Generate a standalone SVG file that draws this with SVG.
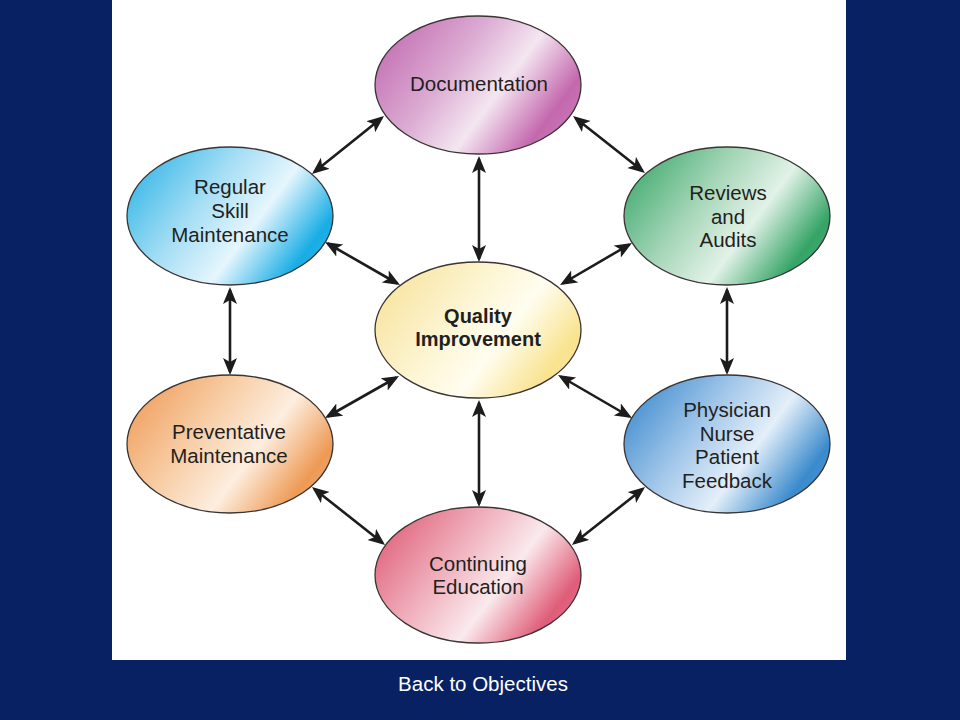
<svg xmlns="http://www.w3.org/2000/svg" width="960" height="720" viewBox="0 0 960 720">
<style>
.node ellipse{stroke:#3a3434;stroke-width:1.3}
.lbl{font-family:"Liberation Sans",Arial,sans-serif;font-size:20.5px;fill:#231f20;text-anchor:middle}
.bold{font-weight:bold;font-size:20px}
.conn line{stroke:#1c1c1c;stroke-width:2.6;marker-start:url(#ah);marker-end:url(#ah)}
.foot{font-family:"Liberation Sans",Arial,sans-serif;font-size:20.5px;fill:#ffffff;text-anchor:middle}
</style>
<defs>
<marker id="ah" markerUnits="userSpaceOnUse" markerWidth="18" markerHeight="16" refX="14" refY="7" orient="auto-start-reverse">
<path d="M0,0 L17,7 L0,14 L4,7 z" fill="#1c1c1c"/>
</marker>
<linearGradient id="gDoc" x1="0" y1="0.25" x2="1" y2="0.75">
<stop offset="0" stop-color="#c470b3"/><stop offset="0.35" stop-color="#dcacd3"/><stop offset="0.6" stop-color="#f4e6f1"/><stop offset="0.87" stop-color="#c468ae"/><stop offset="1" stop-color="#c878b6"/>
</linearGradient>
<linearGradient id="gRsm" x1="0" y1="0.25" x2="1" y2="0.75">
<stop offset="0" stop-color="#3bb9e8"/><stop offset="0.35" stop-color="#a6def5"/><stop offset="0.62" stop-color="#e6f6fd"/><stop offset="0.9" stop-color="#17ade5"/><stop offset="1" stop-color="#2ab3e6"/>
</linearGradient>
<linearGradient id="gRev" x1="0" y1="0.25" x2="1" y2="0.75">
<stop offset="0" stop-color="#46ad73"/><stop offset="0.35" stop-color="#a6d6b8"/><stop offset="0.62" stop-color="#e2f2e8"/><stop offset="0.9" stop-color="#34a465"/><stop offset="1" stop-color="#45ab72"/>
</linearGradient>
<linearGradient id="gQi" x1="0" y1="0.25" x2="1" y2="0.75">
<stop offset="0" stop-color="#f8e4a0"/><stop offset="0.4" stop-color="#fdf6d6"/><stop offset="0.62" stop-color="#fffdf0"/><stop offset="0.9" stop-color="#f9e38f"/><stop offset="1" stop-color="#f8e59c"/>
</linearGradient>
<linearGradient id="gPrev" x1="0" y1="0.25" x2="1" y2="0.75">
<stop offset="0" stop-color="#f0a161"/><stop offset="0.35" stop-color="#f8cfa8"/><stop offset="0.62" stop-color="#fdeee0"/><stop offset="0.9" stop-color="#ee9a55"/><stop offset="1" stop-color="#f0a466"/>
</linearGradient>
<linearGradient id="gPhys" x1="0" y1="0.25" x2="1" y2="0.75">
<stop offset="0" stop-color="#4690d0"/><stop offset="0.35" stop-color="#a4c8ea"/><stop offset="0.62" stop-color="#e4eff9"/><stop offset="0.9" stop-color="#3a8acc"/><stop offset="1" stop-color="#4a93d2"/>
</linearGradient>
<linearGradient id="gCe" x1="0" y1="0.25" x2="1" y2="0.75">
<stop offset="0" stop-color="#e0657e"/><stop offset="0.35" stop-color="#f0b0bd"/><stop offset="0.62" stop-color="#faeaed"/><stop offset="0.9" stop-color="#df5d78"/><stop offset="1" stop-color="#e26b83"/>
</linearGradient>
</defs>
<rect x="0" y="0" width="960" height="720" fill="#072163"/>
<rect x="112" y="0" width="734" height="660" fill="#ffffff"/>

<g id="connectors" class="conn">
<line x1="314.3" y1="172.1" x2="381.7" y2="117.9"/>
<line x1="479" y1="159" x2="479" y2="259"/>
<line x1="327.6" y1="243.5" x2="397.4" y2="283.5"/>
<line x1="575.4" y1="117.9" x2="642.6" y2="171.1"/>
<line x1="629.4" y1="244.5" x2="562.6" y2="283.5"/>
<line x1="230" y1="290" x2="230" y2="372"/>
<line x1="727" y1="290" x2="727" y2="372"/>
<line x1="327.6" y1="416.5" x2="396.4" y2="377.5"/>
<line x1="479" y1="403" x2="479" y2="504"/>
<line x1="314.3" y1="488.9" x2="382.7" y2="543.1"/>
<line x1="560.6" y1="376.5" x2="629.4" y2="416.5"/>
<line x1="642.7" y1="488.9" x2="574.3" y2="543.1"/>
</g>

<g id="documentation" class="node">
<ellipse cx="478" cy="85" rx="103" ry="69" fill="url(#gDoc)"/>
<text class="lbl" x="479" y="91">Documentation</text>
</g>
<g id="regular-skill" class="node">
<ellipse cx="230" cy="216" rx="103" ry="69" fill="url(#gRsm)"/>
<text class="lbl" x="230" y="194">Regular</text>
<text class="lbl" x="230" y="218">Skill</text>
<text class="lbl" x="230" y="242">Maintenance</text>
</g>
<g id="reviews" class="node">
<ellipse cx="727" cy="216" rx="103" ry="69" fill="url(#gRev)"/>
<text class="lbl" x="728" y="200">Reviews</text>
<text class="lbl" x="728" y="223.5">and</text>
<text class="lbl" x="728" y="247">Audits</text>
</g>
<g id="quality" class="node">
<ellipse cx="478" cy="330" rx="103" ry="68" fill="url(#gQi)"/>
<text class="lbl bold" x="478" y="323">Quality</text>
<text class="lbl bold" x="478" y="346">Improvement</text>
</g>
<g id="preventative" class="node">
<ellipse cx="230" cy="444" rx="103" ry="69" fill="url(#gPrev)"/>
<text class="lbl" x="229" y="439">Preventative</text>
<text class="lbl" x="229" y="463">Maintenance</text>
</g>
<g id="physician" class="node">
<ellipse cx="727" cy="444" rx="103" ry="69" fill="url(#gPhys)"/>
<text class="lbl" x="727" y="417">Physician</text>
<text class="lbl" x="727" y="440.5">Nurse</text>
<text class="lbl" x="727" y="464">Patient</text>
<text class="lbl" x="727" y="487.5">Feedback</text>
</g>
<g id="continuing" class="node">
<ellipse cx="478" cy="575" rx="103" ry="68" fill="url(#gCe)"/>
<text class="lbl" x="478" y="571">Continuing</text>
<text class="lbl" x="478" y="594">Education</text>
</g>

<text class="foot" x="483" y="691">Back to Objectives</text>
</svg>
